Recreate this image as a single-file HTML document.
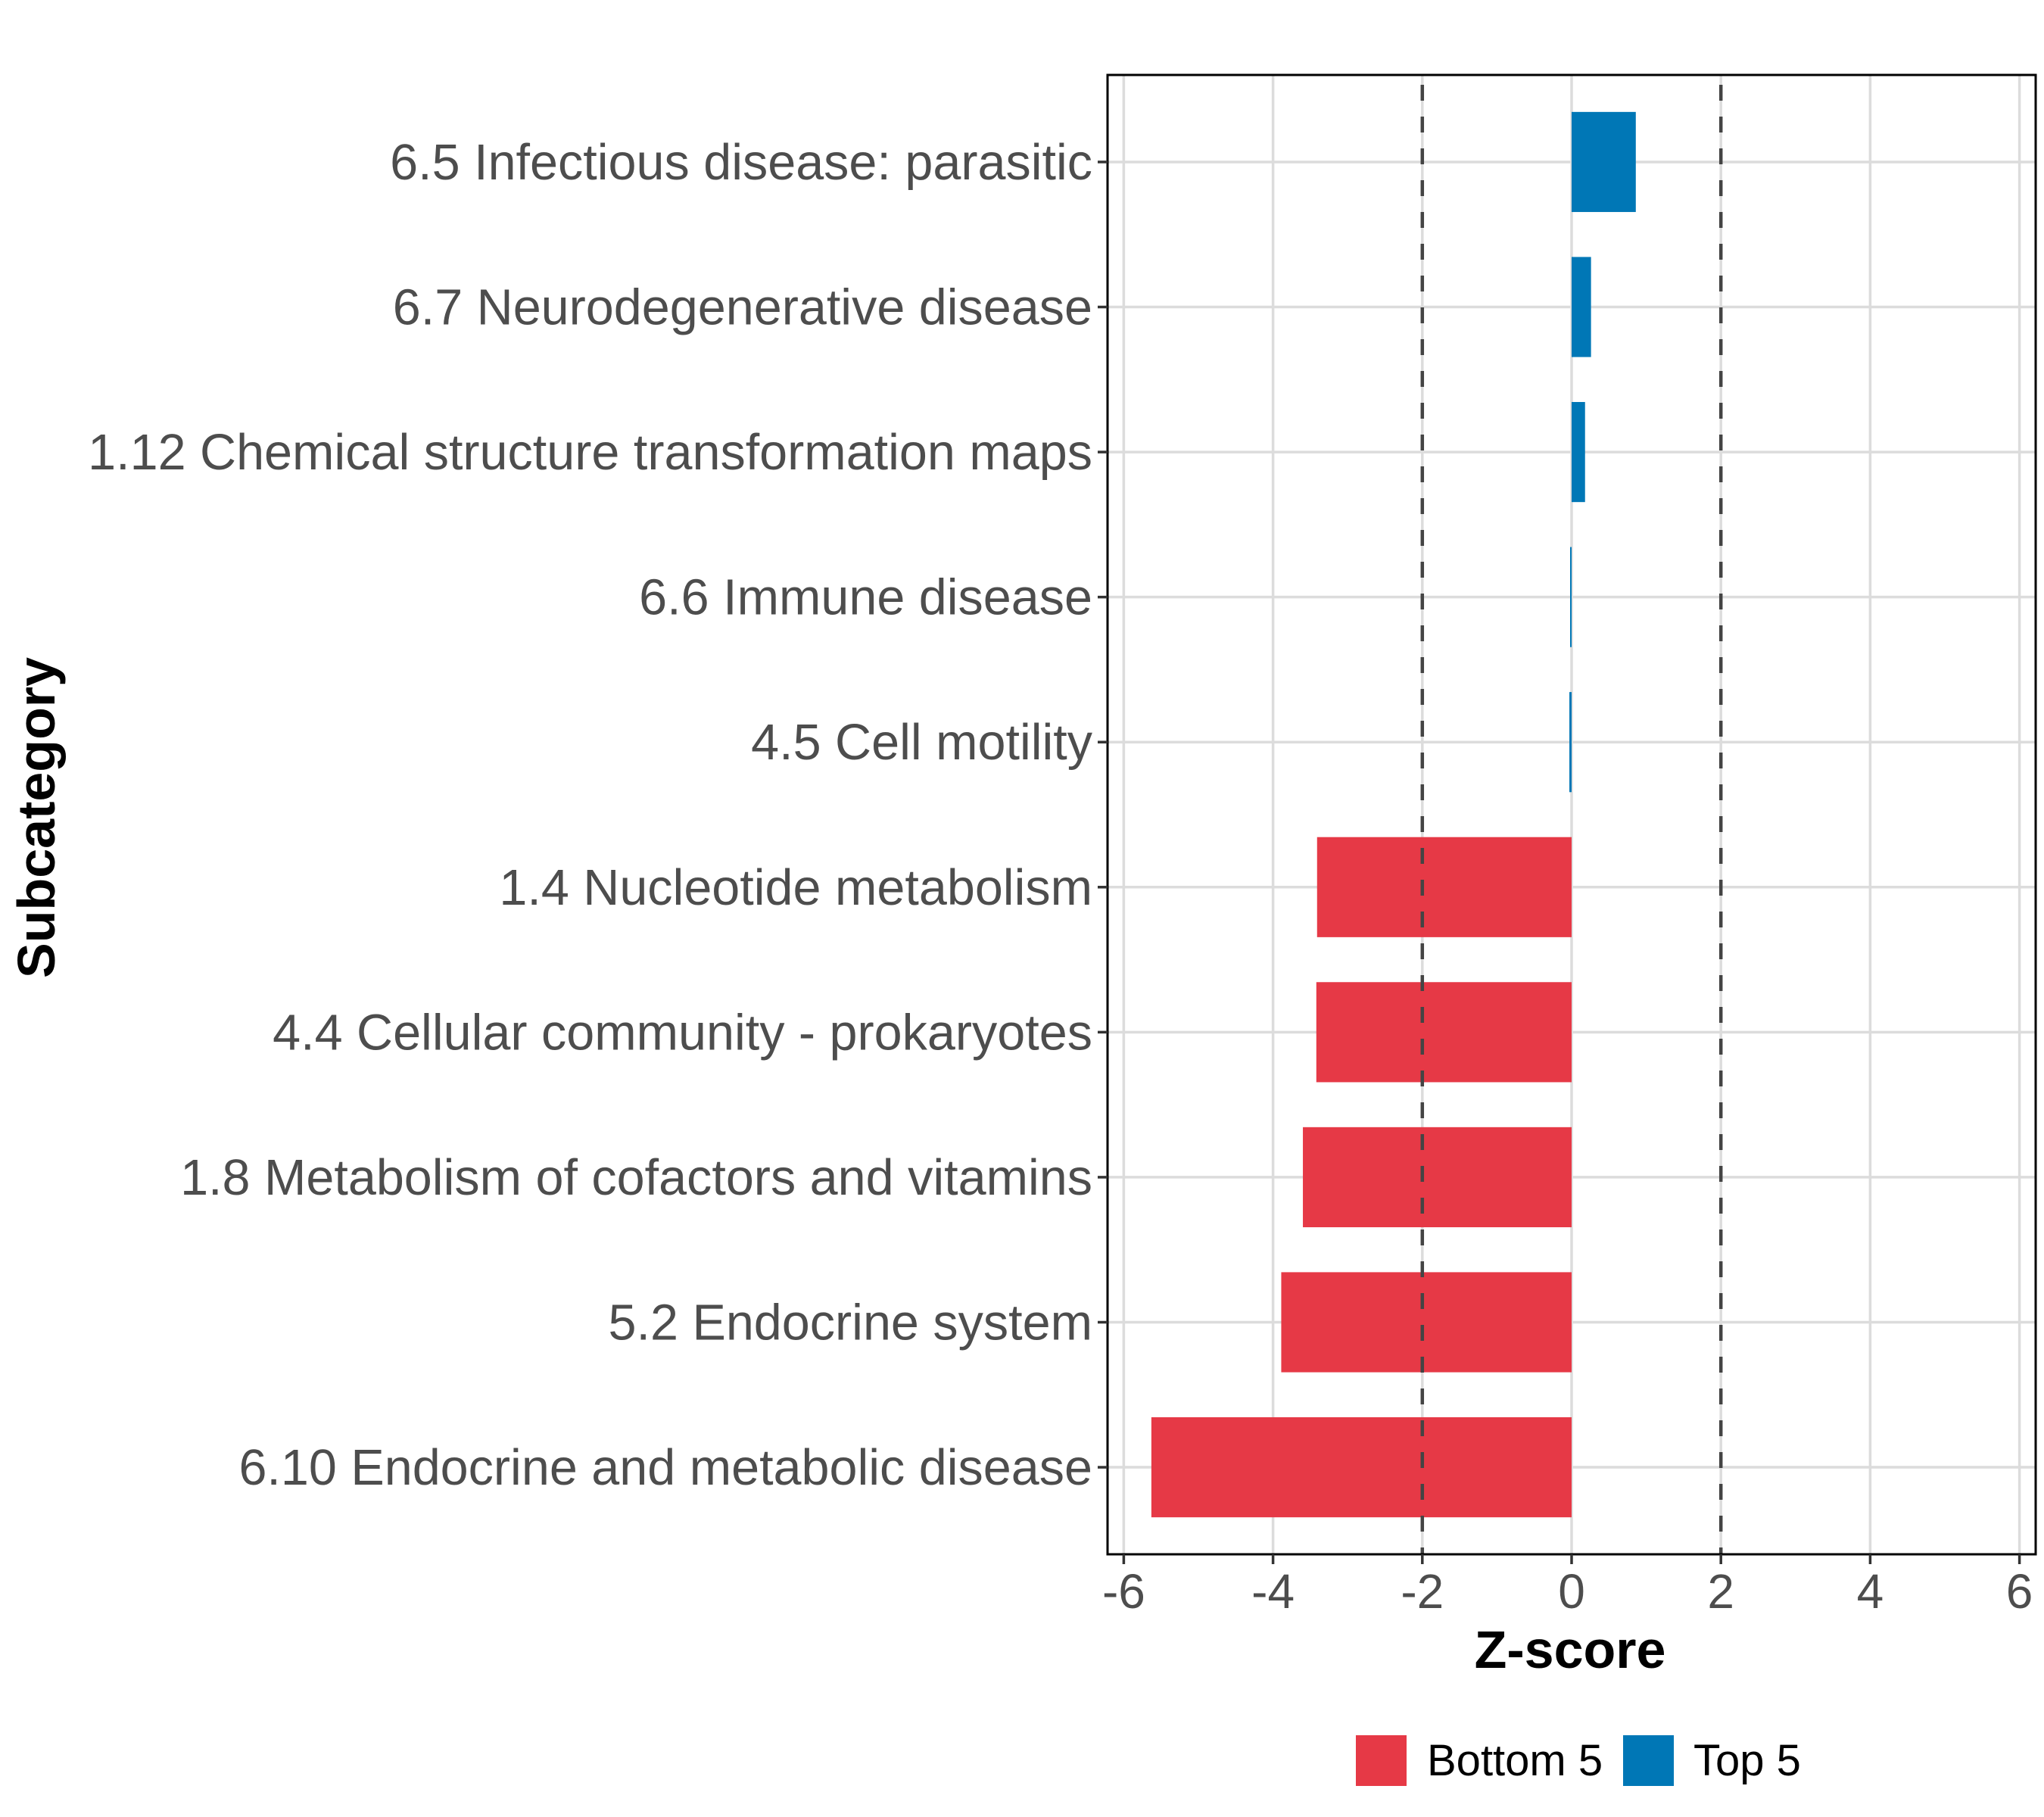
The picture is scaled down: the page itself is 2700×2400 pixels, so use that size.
<!DOCTYPE html>
<html><head><meta charset="utf-8"><style>
html,body{margin:0;padding:0;background:#fff;}
svg{display:block;font-family:"Liberation Sans",sans-serif;}
</style></head><body>
<svg id="chart" width="2700" height="2400" viewBox="0 0 2700 2400">
<g id="grid"></g>
<g id="bars"></g>
<g id="refs"></g>
<rect x="1463" y="99" width="1226" height="1954" fill="none" stroke="#000" stroke-width="3"/>
<g id="xaxis"></g>
<g id="yaxis"></g>
<text x="2074" y="2203" text-anchor="middle" font-size="70" font-weight="bold" fill="#000">Z-score</text>
<text transform="translate(72,1080) rotate(-90)" text-anchor="middle" font-size="70" font-weight="bold" fill="#000">Subcategory</text>
<g>
<rect x="1791" y="2292" width="67" height="67" fill="#E63946"/>
<text x="1885" y="2345" font-size="58" fill="#000">Bottom 5</text>
<rect x="2144" y="2292" width="67" height="67" fill="#0077B6"/>
<text x="2237" y="2345" font-size="58" fill="#000">Top 5</text>
</g>
</svg>
<script>
const categories = ["6.5 Infectious disease: parasitic","6.7 Neurodegenerative disease","1.12 Chemical structure transformation maps","6.6 Immune disease","4.5 Cell motility","1.4 Nucleotide metabolism","4.4 Cellular community - prokaryotes","1.8 Metabolism of cofactors and vitamins","5.2 Endocrine system","6.10 Endocrine and metabolic disease"];
const zscores = [0.86, 0.26, 0.18, -0.02, -0.03, -3.41, -3.42, -3.6, -3.89, -5.63];
const groups = ["Top 5","Top 5","Top 5","Top 5","Top 5","Bottom 5","Bottom 5","Bottom 5","Bottom 5","Bottom 5"];
const xTicks = [-6,-4,-2,0,2,4,6];
const refLines = [-2, 2];
const colors = {"Top 5":"#0077B6","Bottom 5":"#E63946"};
const NS="http://www.w3.org/2000/svg";
const L=1463,R=2689,T=99,B=2053;
const X0=2076, PX=98.6;
function x(v){return X0+v*PX;}
const step=(B-T)/(categories.length-1+1.2);
function y(i){return T+0.6*step+i*step;}
function mk(tag,attrs,parent){const e=document.createElementNS(NS,tag);for(const k in attrs)e.setAttribute(k,attrs[k]);parent.appendChild(e);return e;}
const grid=document.getElementById('grid'),bars=document.getElementById('bars'),refs=document.getElementById('refs'),xa=document.getElementById('xaxis'),ya=document.getElementById('yaxis');
mk('rect',{x:L,y:T,width:R-L,height:B-T,fill:'#fff'},grid);
xTicks.forEach(t=>{
  const g=mk('line',{x1:x(t),x2:x(t),y1:T,y2:B,stroke:'#dcdcdc','stroke-width':3.5},grid);
  
  
  const tk=mk('line',{x1:x(t),x2:x(t),y1:B,y2:B+13,stroke:'#333','stroke-width':3.5},xa);
  
  
  const lb=mk('text',{x:x(t),y:2124,'text-anchor':'middle','font-size':64,fill:'#4d4d4d'},xa);
  lb.textContent=String(t);
  
  
});
categories.forEach((c,i)=>{
  const g=mk('line',{x1:L,x2:R,y1:y(i),y2:y(i),stroke:'#dcdcdc','stroke-width':3.5},grid);
  
  
  const tk=mk('line',{x1:L-13,x2:L,y1:y(i),y2:y(i),stroke:'#333','stroke-width':3.5},ya);
  
  
  const lb=mk('text',{x:L-20,y:y(i)+23,'text-anchor':'end','font-size':66.5,fill:'#4d4d4d'},ya);
  lb.textContent=c;
  
  
  const v=zscores[i],h=step*0.69;
  const b=mk('rect',{x:Math.min(x(0),x(v)),y:y(i)-h/2,width:Math.max(Math.abs(x(v)-x(0)),2),height:h,fill:colors[groups[i]]},bars);
  
  
});
refLines.forEach(r=>{
  const l=mk('line',{x1:x(r),x2:x(r),y1:T,y2:B,stroke:'#444','stroke-width':4.5,'stroke-dasharray':'21 21','stroke-dashoffset':'-13'},refs);
  
  
});
</script>
</body></html>
